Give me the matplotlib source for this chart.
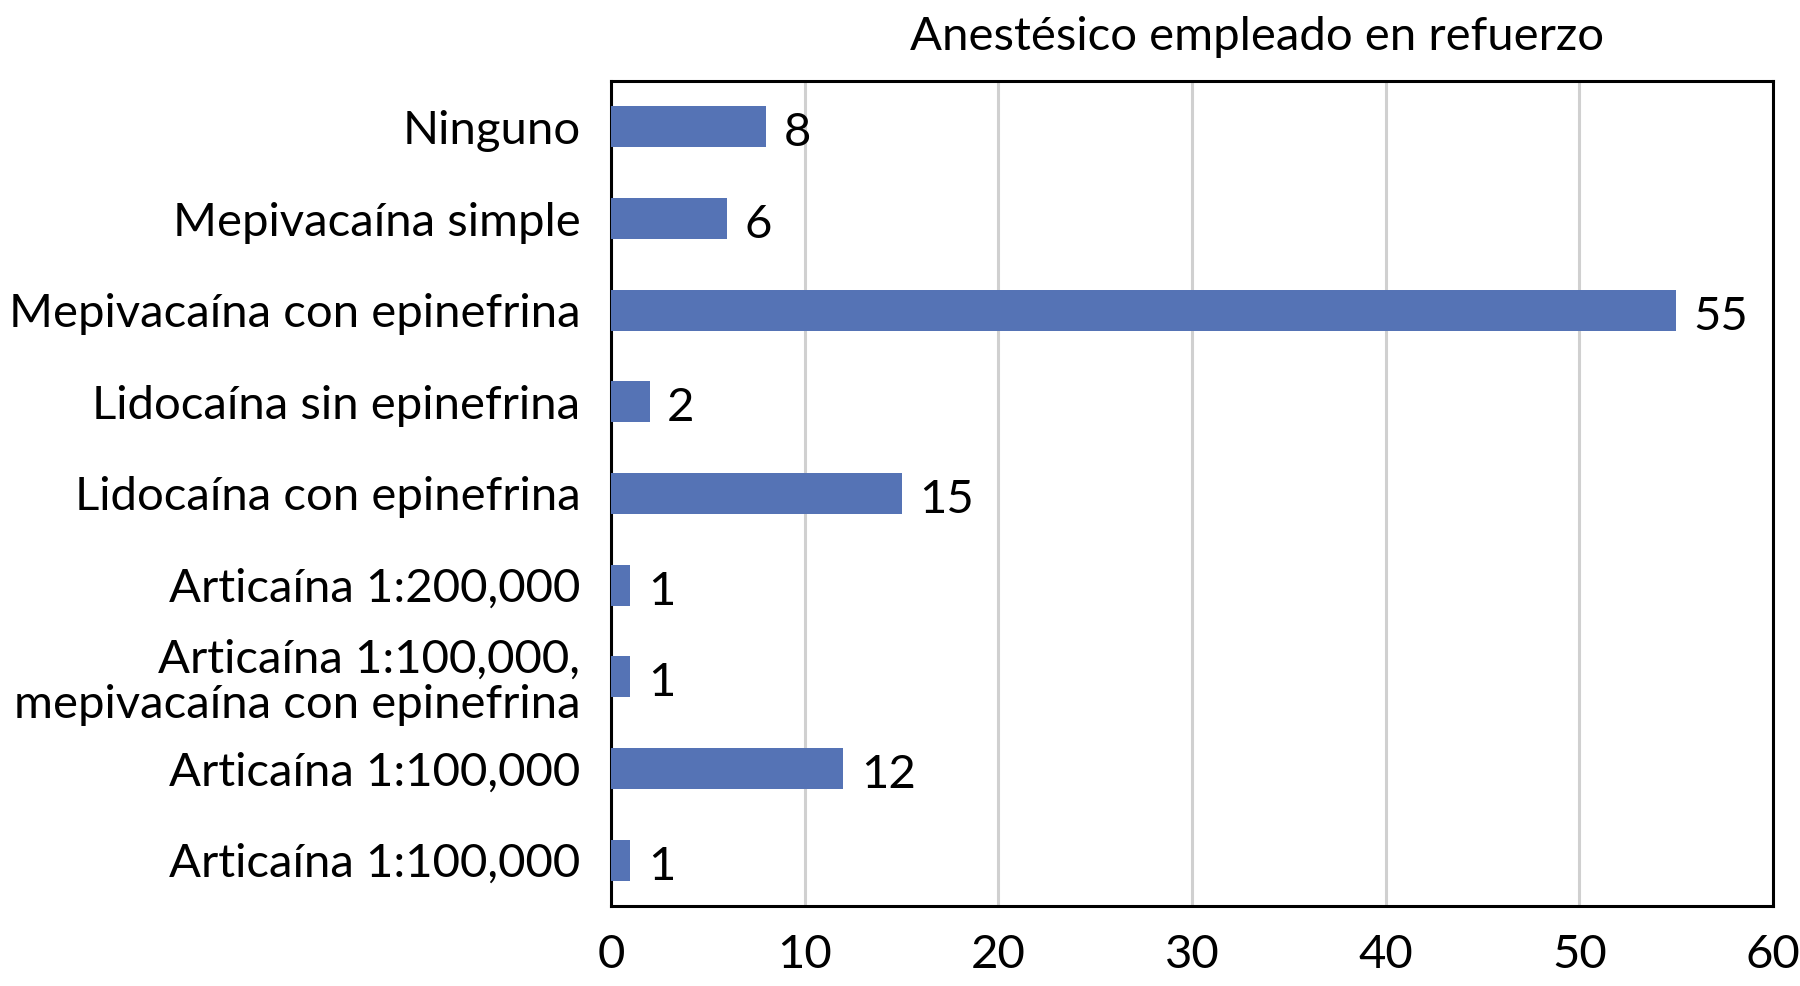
import matplotlib
matplotlib.use("Agg")
import matplotlib.pyplot as plt
import matplotlib.transforms as mtransforms

categories = [
    "Ninguno",
    "Mepivacaína simple",
    "Mepivacaína con epinefrina",
    "Lidocaína sin epinefrina",
    "Lidocaína con epinefrina",
    "Articaína 1:200,000",
    "Articaína 1:100,000,\nmepivacaína con epinefrina",
    "Articaína 1:100,000",
    "Articaína 1:100,000",
]
values = [8, 6, 55, 2, 15, 1, 1, 12, 1]
xticks = [0, 10, 20, 30, 40, 50, 60]
title = "Anestésico empleado en refuerzo"

plt.rcParams['font.family'] = ['Lato', 'DejaVu Sans']
FS = 34

fig = plt.figure(figsize=(18, 9.86), dpi=100)
ax = fig.add_axes([611/1800, 1 - 906/986, (1773-611)/1800, (906-81)/986])

pos = list(range(len(categories)))[::-1]
ax.barh(pos, values, height=0.45, color="#5573B5", zorder=3)
for p, v in zip(pos, values):
    ax.text(v + 0.9, p - 0.07, str(v), va="center", ha="left", fontsize=FS, color="black")

ax.set_xlim(0, 60)
ax.set_ylim(-0.5, len(categories) - 0.5)
ax.set_xticks(xticks)
ax.set_xticklabels([str(t) for t in xticks], fontsize=FS)
ax.set_yticks(pos)
ax.set_yticklabels(categories, fontsize=FS, linespacing=1.08)
offset = mtransforms.ScaledTranslation(0, -4/100, fig.dpi_scale_trans)
for lbl in ax.get_yticklabels():
    lbl.set_transform(lbl.get_transform() + offset)
ax.tick_params(axis="y", length=0, pad=22)
ax.tick_params(axis="x", length=0, pad=20)
ax.xaxis.grid(True, color="#D0D0D0", linewidth=2.2, zorder=0)
ax.set_axisbelow(True)
for s in ax.spines.values():
    s.set_linewidth(2.2)
    s.set_color("black")

fig.text(1257/1800, 1 - 37/986, title, ha="center", va="center", fontsize=FS)

fig.savefig("out.png", dpi=100)
